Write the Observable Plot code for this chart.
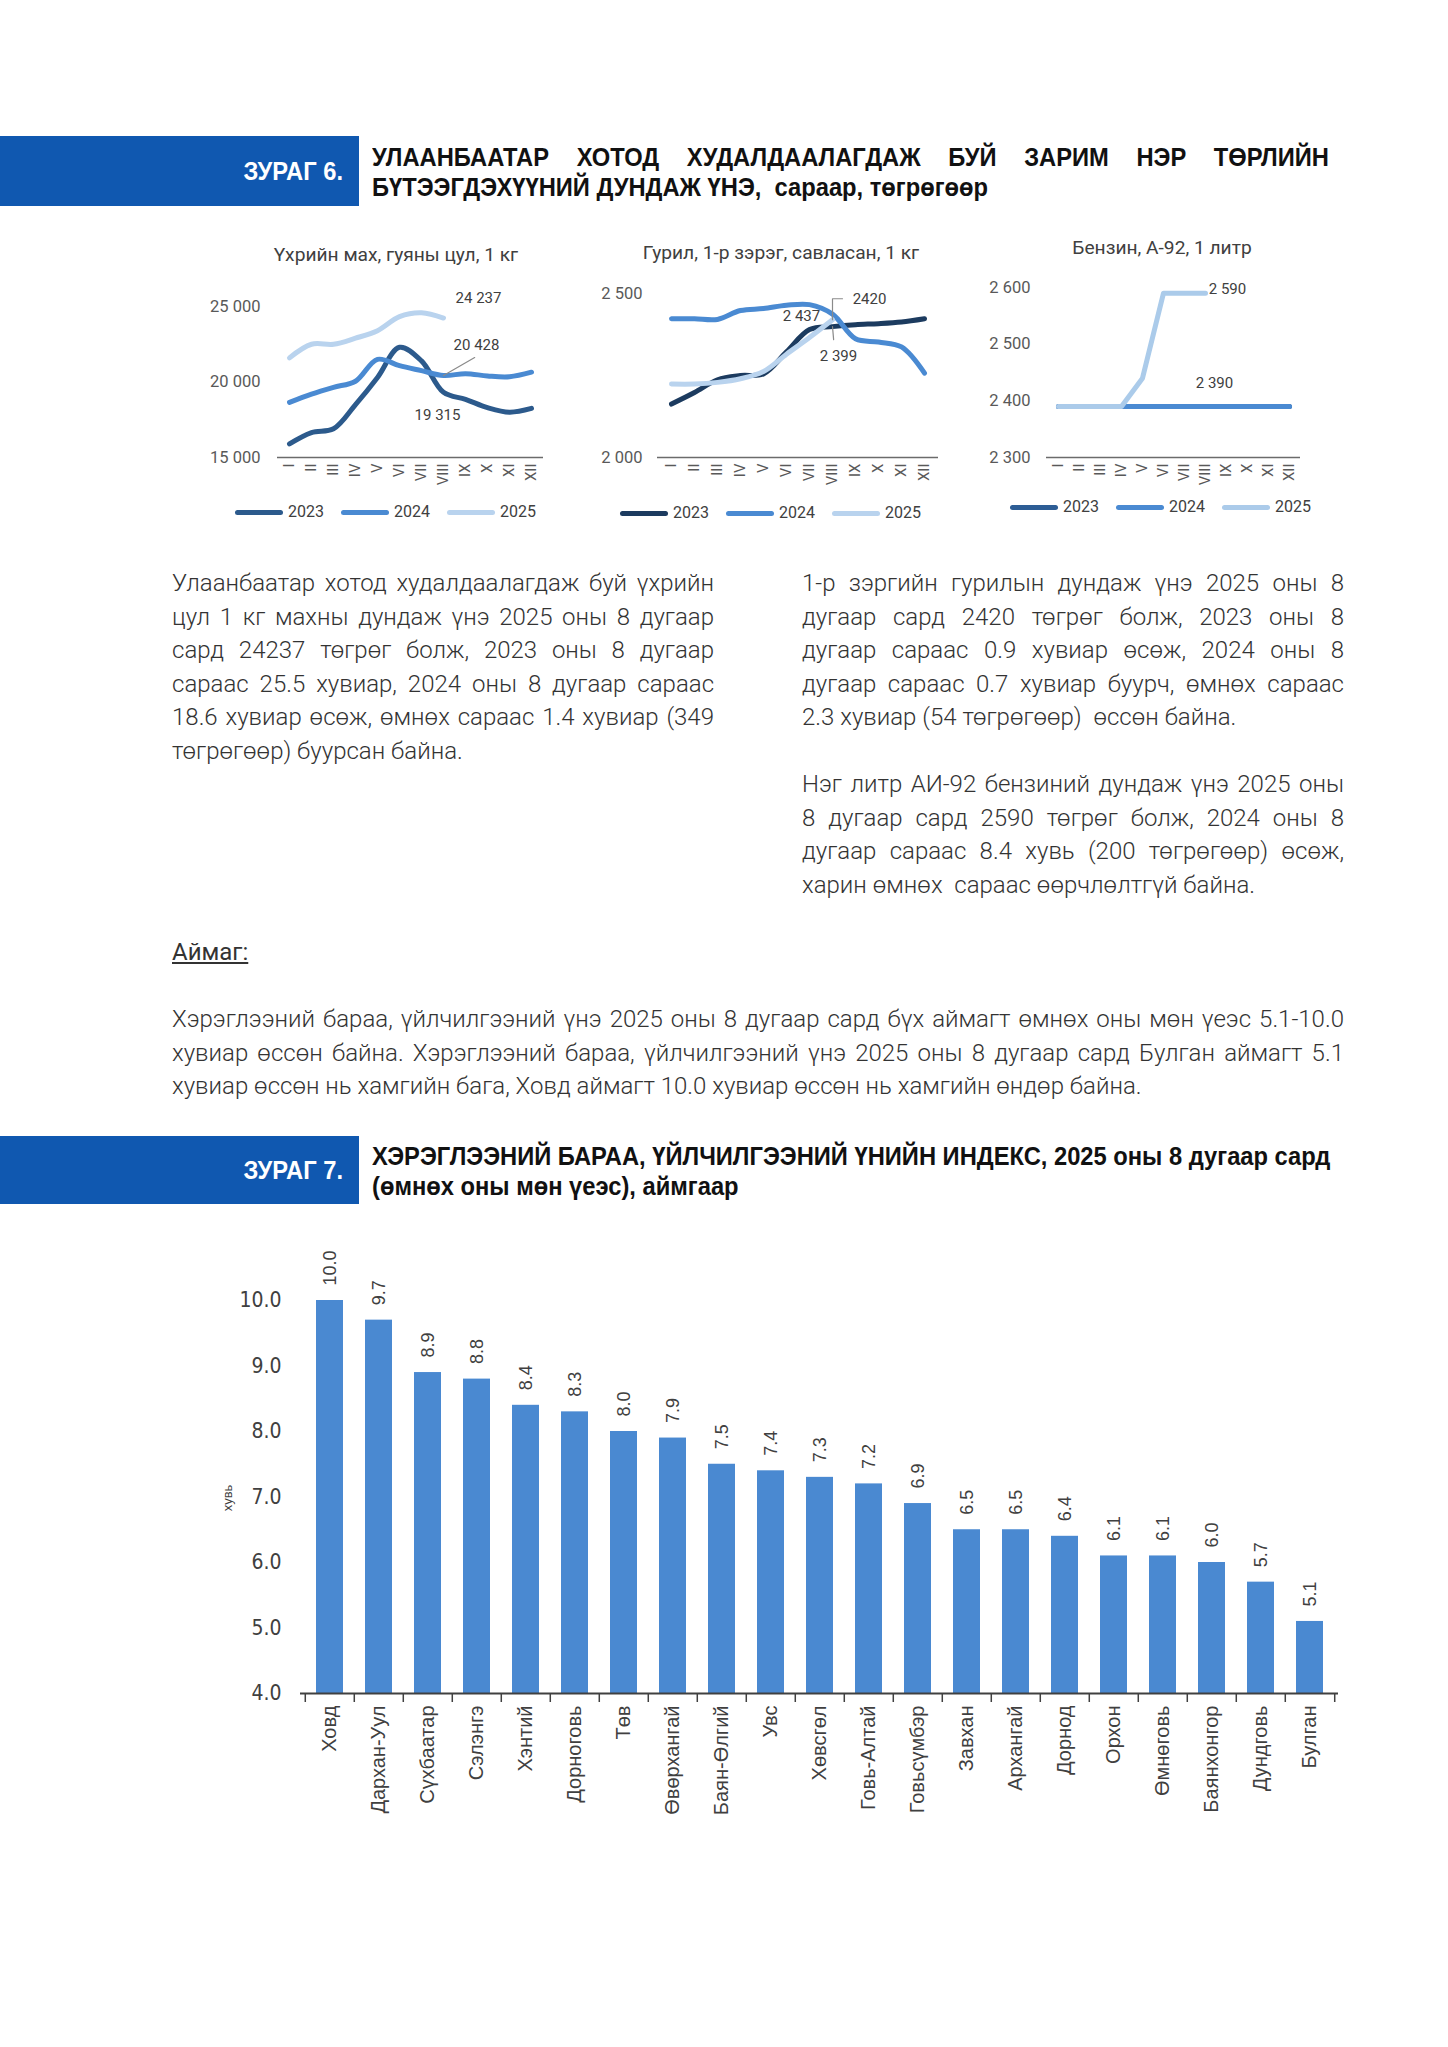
<!DOCTYPE html>
<html lang="mn">
<head>
<meta charset="utf-8">
<script src="https://cdn.jsdelivr.net/npm/d3@7"></script>
<script src="https://cdn.jsdelivr.net/npm/@observablehq/plot@0.6"></script>
<style>
  html,body{margin:0;padding:0;background:#fff;}
  body{position:relative;width:1448px;height:2047px;overflow:hidden;font-family:Roboto,"Noto Sans",sans-serif;color:#333;}
  .bar{position:absolute;left:0;width:359px;background:#1058b0;}
  .hd{font-family:"Liberation Sans",Arial,sans-serif;font-weight:700;font-size:25.5px;line-height:30px;white-space:nowrap;}
  .figno{position:absolute;left:0;width:343px;text-align:right;color:#fff;transform:scaleX(0.93);transform-origin:343px 0;}
  .ftitle{position:absolute;left:372px;width:1029px;color:#111;transform:scaleX(0.93);transform-origin:0 0;}
  .j{text-align:justify;text-align-last:justify;}
  .ctitle{position:absolute;width:400px;text-align:center;font-size:19.2px;line-height:24px;color:#404040;}
  .legend{position:absolute;display:flex;align-items:center;font-size:16px;line-height:20px;color:#404040;}
  .legend .sw{display:inline-block;width:48px;height:5px;border-radius:3px;margin-right:5px;}
  .legend .it{display:flex;align-items:center;margin-right:17px;}
  .para{position:absolute;font-size:24px;line-height:33.5px;font-weight:300;color:#333;white-space:nowrap;}
  .plot{position:absolute;}
  .plot svg{overflow:visible;}
</style>
</head>
<body>

<div class="bar" style="top:136px;height:70px;"></div>
<div class="figno hd" style="top:156px;">ЗУРАГ 6.</div>
<div class="ftitle hd" style="top:142px;">
  <div class="j">УЛААНБААТАР ХОТОД ХУДАЛДААЛАГДАЖ БУЙ ЗАРИМ НЭР ТӨРЛИЙН</div>
  <div>БҮТЭЭГДЭХҮҮНИЙ ДУНДАЖ ҮНЭ,&nbsp; сараар, төгрөгөөр</div>
</div>

<div class="ctitle" style="left:196px;top:243px;">Үхрийн мах, гуяны цул, 1 кг</div>
<div class="ctitle" style="left:581px;top:241px;">Гурил, 1-р зэрэг, савласан, 1 кг</div>
<div class="ctitle" style="left:962px;top:236px;">Бензин, А-92, 1 литр</div>

<div id="c1" class="plot" style="left:190px;top:270px;"></div>
<div id="c2" class="plot" style="left:580px;top:270px;"></div>
<div id="c3" class="plot" style="left:960px;top:270px;"></div>

<div id="l1" class="legend" style="left:235px;top:502px;"></div>
<div id="l2" class="legend" style="left:620px;top:503px;"></div>
<div id="l3" class="legend" style="left:1010px;top:497px;"></div>

<div class="para" style="left:172px;top:567px;width:542px;">
  <div class="j">Улаанбаатар хотод худалдаалагдаж буй үхрийн</div>
  <div class="j">цул 1 кг махны дундаж үнэ 2025 оны 8 дугаар</div>
  <div class="j">сард 24237 төгрөг болж, 2023 оны 8 дугаар</div>
  <div class="j">сараас 25.5 хувиар, 2024 оны 8 дугаар сараас</div>
  <div class="j">18.6 хувиар өсөж, өмнөх сараас 1.4 хувиар (349</div>
  <div>төгрөгөөр) буурсан байна.</div>
</div>

<div class="para" style="left:802px;top:567px;width:542px;">
  <div class="j">1-р зэргийн гурилын дундаж үнэ 2025 оны 8</div>
  <div class="j">дугаар сард 2420 төгрөг болж, 2023 оны 8</div>
  <div class="j">дугаар сараас 0.9 хувиар өсөж, 2024 оны 8</div>
  <div class="j">дугаар сараас 0.7 хувиар буурч, өмнөх сараас</div>
  <div>2.3 хувиар (54 төгрөгөөр)&nbsp; өссөн байна.</div>
</div>

<div class="para" style="left:802px;top:768px;width:542px;">
  <div class="j">Нэг литр АИ-92 бензиний дундаж үнэ 2025 оны</div>
  <div class="j">8 дугаар сард 2590 төгрөг болж, 2024 оны 8</div>
  <div class="j">дугаар сараас 8.4 хувь (200 төгрөгөөр) өсөж,</div>
  <div>харин өмнөх&nbsp; сараас өөрчлөлтгүй байна.</div>
</div>

<div class="para" style="left:172px;top:936px;font-weight:400;text-decoration:underline;">Аймаг:</div>

<div class="para" style="left:172px;top:1003px;width:1172px;">
  <div class="j">Хэрэглээний бараа, үйлчилгээний үнэ 2025 оны 8 дугаар сард бүх аймагт өмнөх оны мөн үеэс 5.1-10.0</div>
  <div class="j">хувиар өссөн байна. Хэрэглээний бараа, үйлчилгээний үнэ 2025 оны 8 дугаар сард Булган аймагт 5.1</div>
  <div>хувиар өссөн нь хамгийн бага, Ховд аймагт 10.0 хувиар өссөн нь хамгийн өндөр байна.</div>
</div>

<div class="bar" style="top:1136px;height:68px;"></div>
<div class="figno hd" style="top:1155px;">ЗУРАГ 7.</div>
<div class="ftitle hd" style="top:1141px;">
  <div class="j">ХЭРЭГЛЭЭНИЙ БАРАА, ҮЙЛЧИЛГЭЭНИЙ ҮНИЙН ИНДЕКС, 2025 оны 8 дугаар сард</div>
  <div>(өмнөх оны мөн үеэс), аймгаар</div>
</div>

<div style="position:absolute;left:198px;top:1486px;width:60px;text-align:center;transform:rotate(-90deg);font-family:'Liberation Sans',Arial,sans-serif;font-size:13px;line-height:24px;color:#404040;">хувь</div>
<div id="c7" class="plot" style="left:150px;top:1230px;"></div>

<script>
// ---------- data ----------
const months = ["I","II","III","IV","V","VI","VII","VIII","IX","X","XI","XII"];
const years = ["2023","2024","2025"];

// Үхрийн мах, гуяны цул, 1 кг
const meat2023 = [15900, 16650, 16900, 18500, 20300, 22300, 21400, 19315, 18850, 18300, 18000, 18250];
const meat2024 = [18650, 19200, 19650, 20050, 21500, 21080, 20750, 20428, 20550, 20400, 20350, 20650];
const meat2025 = [21600, 22500, 22500, 22900, 23400, 24330, 24586, 24237];
const meatTicks = [15000, 20000, 25000];

// Гурил, 1-р зэрэг, савласан, 1 кг
const flour2023 = [2163, 2198, 2237, 2250, 2255, 2322, 2390, 2399, 2405, 2408, 2413, 2423];
const flour2024 = [2423, 2423, 2421, 2448, 2454, 2464, 2466, 2437, 2362, 2352, 2337, 2257];
const flour2025 = [2224, 2224, 2229, 2240, 2262, 2315, 2366, 2420];
const flourTicks = [2000, 2500];

// Бензин, А-92, 1 литр
const fuel2023 = [2390, 2390, 2390, 2390, 2390, 2390, 2390, 2390, 2390, 2390, 2390, 2390];
const fuel2024 = [2390, 2390, 2390, 2390, 2390, 2390, 2390, 2390, 2390, 2390, 2390, 2390];
const fuel2025 = [2390, 2390, 2390, 2390, 2440, 2590, 2590, 2590];
const fuelTicks = [2300, 2400, 2500, 2600];

// ЗУРАГ 7
const regions = ["Ховд","Дархан-Уул","Сүхбаатар","Сэлэнгэ","Хэнтий","Дорноговь","Төв","Өвөрхангай","Баян-Өлгий","Увс","Хөвсгөл","Говь-Алтай","Говьсүмбэр","Завхан","Архангай","Дорнод","Орхон","Өмнөговь","Баянхонгор","Дундговь","Булган"];
const cpi = [10.0, 9.7, 8.9, 8.8, 8.4, 8.3, 8.0, 7.9, 7.5, 7.4, 7.3, 7.2, 6.9, 6.5, 6.5, 6.4, 6.1, 6.1, 6.0, 5.7, 5.1];
const cpiTicks = [4, 5, 6, 7, 8, 9, 10];

// ---------- helpers ----------
const fmtSpace = v => d3.format(",")(v).replace(/,/g, " ");
const rows = series => years.flatMap((yr, k) => series[k].map((v, i) => ({month: months[i], value: v, year: yr})));
const pt = (arr, i) => ({month: months[i], value: arr[i]});
const GRAY = "#404040";

function label(d, text, dx, dy) {
  return Plot.text([d], {x: "month", y: "value", text: () => text, dx, dy, fontSize: 15, fill: GRAY});
}
function leader(d, length, rotate, path) {
  return Plot.vector([d], {x: "month", y: "value", length, rotate, anchor: "start",
    stroke: "#8a8a8a", strokeWidth: 1.2,
    shape: {draw(ctx, l) { ctx.moveTo(0, 0); ctx.lineTo(0, -l); if (path) ctx.lineTo(path, -l); }}});
}

function lineChart(o) {
  return Plot.plot({
    width: o.w, height: 232, marginLeft: o.ml, marginRight: o.mr, marginTop: o.mt, marginBottom: 45,
    style: {fontFamily: "Roboto, sans-serif", background: "transparent", overflow: "visible"},
    x: {type: "point", domain: months, padding: o.padding},
    y: {domain: o.yDomain},
    color: {domain: years, range: o.colors},
    marks: [
      Plot.axisY({ticks: o.yTicks, tickFormat: fmtSpace, tickSize: 0, tickPadding: o.tickPad, label: null, fontSize: 16.5, fill: "#595959"}),
      Plot.axisX({tickRotate: -90, tickSize: 0, tickPadding: 6, label: null, fontSize: 15, fill: "#595959"}),
      Plot.ruleY([o.yDomain[0]], {stroke: "#6b6b6b", strokeWidth: 1.5}),
      Plot.line(rows(o.series), {x: "month", y: "value", z: "year", stroke: "year", strokeWidth: 5,
        curve: o.curve, strokeLinecap: "round", strokeLinejoin: "round"}),
      ...o.extras
    ]
  });
}

function legend(el, colors) {
  const box = document.getElementById(el);
  years.forEach((yr, k) => {
    const it = document.createElement("span"); it.className = "it";
    const sw = document.createElement("span"); sw.className = "sw"; sw.style.background = colors[k];
    const tx = document.createElement("span"); tx.textContent = yr;
    it.appendChild(sw); it.appendChild(tx); box.appendChild(it);
  });
}

// ---------- chart 1 ----------
const c1Colors = ["#2c5a8c", "#4a8ad2", "#b9d3ee"];
document.getElementById("c1").appendChild(lineChart({
  w: 360, ml: 87, mr: 7, mt: 36, padding: 0.45, tickPad: 17,
  yDomain: [15000, 25000], yTicks: meatTicks, colors: c1Colors, curve: "catmull-rom",
  series: [meat2023, meat2024, meat2025],
  extras: [
    leader(pt(meat2024, 7), 36, 60),
    label(pt(meat2025, 7), fmtSpace(meat2025[7]), 35, -20),
    label(pt(meat2024, 7), fmtSpace(meat2024[7]), 33, -30),
    label(pt(meat2023, 7), fmtSpace(meat2023[7]), -6, 23)
  ]
}));
legend("l1", c1Colors);

// ---------- chart 2 ----------
const c2Colors = ["#1c3b5f", "#4a8ad2", "#b9d3ee"];
document.getElementById("c2").appendChild(lineChart({
  w: 365, ml: 77, mr: 7, mt: 23, padding: 0.467, tickPad: 15,
  yDomain: [2000, 2500], yTicks: flourTicks, colors: c2Colors, curve: "catmull-rom",
  series: [flour2023, flour2024, flour2025],
  extras: [
    leader(pt(flour2025, 7), 21, 0, 10),
    leader(pt(flour2023, 7), 13, 175),
    label(pt(flour2025, 7), String(flour2025[7]), 37, -21),
    label(pt(flour2024, 7), fmtSpace(flour2024[7]), -31, 2),
    label(pt(flour2023, 7), fmtSpace(flour2023[7]), 6, 30)
  ]
}));
legend("l2", c2Colors);

// ---------- chart 3 ----------
const c3Colors = ["#2d5d95", "#4a8ad2", "#abcbea"];
document.getElementById("c3").appendChild(lineChart({
  w: 350, ml: 86, mr: 10, mt: 17, padding: 0.445, tickPad: 16,
  yDomain: [2300, 2600], yTicks: fuelTicks, colors: c3Colors, curve: "linear",
  series: [fuel2023, fuel2024, fuel2025],
  extras: [
    label(pt(fuel2025, 7), fmtSpace(fuel2025[7]), 22, -4),
    label(pt(fuel2024, 7), fmtSpace(fuel2024[7]), 9, -23)
  ]
}));
legend("l3", c3Colors);

// ---------- chart 7 ----------
const cpiData = regions.map((r, i) => ({region: r, value: cpi[i]}));
const cpiDomain = [cpiTicks[0], cpiTicks[cpiTicks.length - 1]];
const half = 1038 / 21 / 2;
document.getElementById("c7").appendChild(Plot.plot({
  width: 1208, height: 610, marginLeft: 150, marginRight: 20, marginTop: 70, marginBottom: 147,
  style: {fontFamily: "'Liberation Sans', Arial, sans-serif", background: "transparent", overflow: "visible"},
  x: {domain: regions, paddingInner: 0.45, paddingOuter: 0.225},
  y: {domain: cpiDomain},
  marks: [
    Plot.barY(cpiData, {x: "region", y1: cpiDomain[0], y2: "value", fill: "#4a89d1"}),
    Plot.ruleY([cpiDomain[0]], {stroke: GRAY, strokeWidth: 2}),
    Plot.ruleX(regions, {x: d => d, dx: -half, y1: cpiDomain[0], y2: cpiDomain[0], insetBottom: -9, stroke: GRAY, strokeWidth: 1.5}),
    Plot.ruleX(regions.slice(-1), {x: d => d, dx: half, y1: cpiDomain[0], y2: cpiDomain[0], insetBottom: -9, stroke: GRAY, strokeWidth: 1.5}),
    Plot.axisY({ticks: cpiTicks, tickFormat: d => d.toFixed(1), tickSize: 0, tickPadding: 19, label: null, fontSize: 21, fontFamily: "'DejaVu Sans Condensed', sans-serif", fill: GRAY}),
    Plot.axisX({tickRotate: -90, tickSize: 0, tickPadding: 12, label: null, fontSize: 20, fill: GRAY}),
    Plot.text(cpiData, {x: "region", y: "value", text: d => d.value.toFixed(1), rotate: -90, textAnchor: "start", dy: -15, fontSize: 18, fill: GRAY})
  ]
}));
</script>
</body>
</html>
